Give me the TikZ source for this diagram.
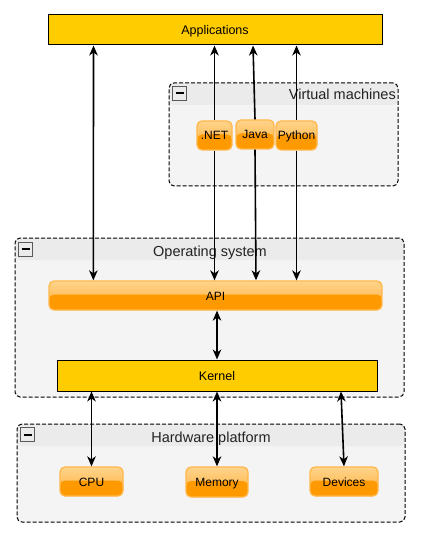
\documentclass[tikz,border=0pt]{standalone}
\usepackage{fontspec}
\setmainfont{Liberation Sans}
\usetikzlibrary{arrows.meta}
\definecolor{appyellow}{HTML}{FFCC00}
\definecolor{orgdark}{HTML}{FF9900}
\definecolor{orgtop}{HTML}{FFD48C}
\definecolor{orgmid}{HTML}{FFAE38}
\definecolor{orgline}{HTML}{FFB84A}
\definecolor{grpfill}{HTML}{F4F4F4}
\definecolor{grphead}{HTML}{EBEBEB}
\definecolor{titlegray}{HTML}{222222}

\begin{document}
\begin{tikzpicture}[x=1pt,y=-1pt,
    group/.style={draw=black, dashed, dash pattern=on 4pt off 2pt, line width=1pt,
      rounded corners=5pt, fill=grpfill, inner sep=0pt,
      path picture={\fill[grphead] (path picture bounding box.north west)
        rectangle ([yshift=-22pt]path picture bounding box.north east);}},
    grptitle/.style={font=\fontsize{14.5}{17}\selectfont, text=titlegray, inner sep=0pt},
    minusbox/.style={draw=black!65, line width=0.8pt, fill=grphead, minimum size=14pt, inner sep=0pt,
      path picture={\draw[black, line width=2pt] ([xshift=3pt]path picture bounding box.west)
        -- ([xshift=-3pt]path picture bounding box.east);}},
    yellowbox/.style={draw=black, line width=1pt, fill=appyellow, inner sep=0pt,
      text height=9pt, text depth=0pt, font=\fontsize{12.5}{15}\selectfont},
    orangebox/.style={draw=orgline, line width=1.3pt, rounded corners=5pt, inner sep=0pt,
      text height=9pt, text depth=0pt, font=\fontsize{12}{14}\selectfont,
      path picture={\shade[top color=orgtop, bottom color=orgmid]
          (path picture bounding box.north west) rectangle (path picture bounding box.south east);
        \fill[orgdark] (path picture bounding box.south west)
          rectangle ([yshift=1pt]path picture bounding box.east);}},
    link/.style={line width=1.6pt, -{Stealth[length=10pt,width=8.5pt,inset=3pt]}},
    dbl/.style={line width=1.6pt, {Stealth[length=10pt,width=8.5pt,inset=3pt]}-{Stealth[length=10pt,width=8.5pt,inset=3pt]}}]
  \useasboundingbox (0,0) rectangle (420,537);

  % groups
  \node[group, minimum width=229pt, minimum height=103pt] (vm) at (283.5,134.5) {};
  \node[group, minimum width=389pt, minimum height=159pt] (os) at (209.5,317.5) {};
  \node[group, minimum width=388pt, minimum height=98pt] (hw) at (211,473) {};
  \node[minusbox] (vmminus) at (179.5,93.5) {};
  \node[minusbox] (osminus) at (25.5,249) {};
  \node[minusbox] (hwminus) at (27.5,434.5) {};
  \node[grptitle, anchor=base east] (vmtitle) at (396,100) {Virtual machines};
  \node[grptitle, anchor=base] (ostitle) at (210,256) {Operating system};
  \node[grptitle, anchor=base] (hwtitle) at (211,442) {Hardware platform};

  % boxes
  \node[yellowbox, minimum width=334pt, minimum height=30pt] (apps) at (215,30) {Applications};
  \node[orangebox, minimum width=35pt, minimum height=29pt] (net) at (214.5,135.5) {.NET};
  \node[orangebox, minimum width=38pt, minimum height=29pt] (java) at (255,134.5) {Java};
  \node[orangebox, minimum width=41pt, minimum height=29pt] (python) at (296.5,135.5) {Python};
  \node[orangebox, minimum width=333pt, minimum height=29pt] (api) at (215.5,295.5) {API};
  \node[yellowbox, minimum width=320pt, minimum height=31pt] (kernel) at (217,375.5) {Kernel};
  \node[orangebox, minimum width=63pt, minimum height=29pt] (cpu) at (91.5,481.5) {CPU};
  \node[orangebox, minimum width=62pt, minimum height=30pt] (memory) at (217,482) {Memory};
  \node[orangebox, minimum width=68pt, minimum height=29pt] (devices) at (344,481.5) {Devices};

  % connectors
  \draw[dbl] ([xshift=46pt]apps.south west) -- ([xshift=45pt]api.north west);
  \draw[link] (net.north) -- (apps.south -| net.north);
  \draw[link] (java.north) -- ([xshift=-2pt]apps.south -| java.north);
  \draw[link] (python.north) -- (apps.south -| python.north);
  \draw[link] (net.south) -- (api.north -| net.south);
  \draw[link] (java.south) -- ([xshift=1pt]api.north -| java.south);
  \draw[link] (python.south) -- (api.north -| python.south);
  \draw[dbl] (kernel.north |- api.south) -- (kernel.north);
  \draw[dbl] (kernel.south -| cpu.north) -- (cpu.north);
  \draw[dbl] (kernel.south -| memory.north) -- (memory.north);
  \draw[dbl] ([xshift=-3pt]kernel.south -| devices.north) -- (devices.north);
\end{tikzpicture}
\end{document}
